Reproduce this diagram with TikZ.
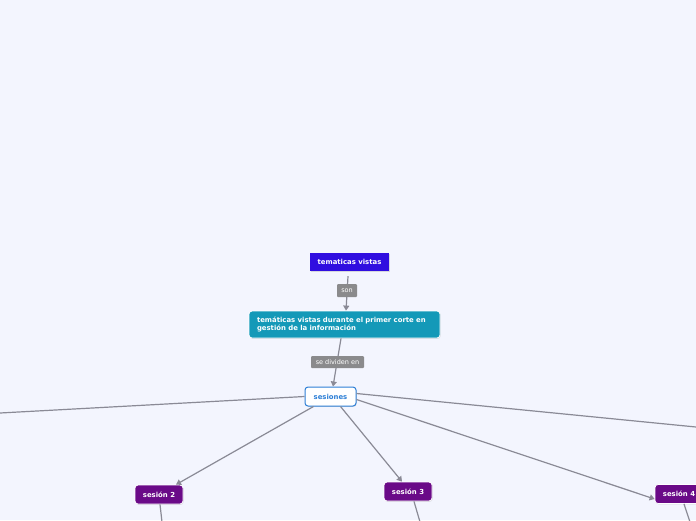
\documentclass[tikz,border=0pt]{standalone}
\usepackage{fontspec}
\setmainfont{DejaVu Sans}
\usetikzlibrary{arrows.meta,shadows}
\definecolor{bgc}{RGB}{243,245,254}
\definecolor{tvc}{RGB}{48,14,224}
\definecolor{durc}{RGB}{20,153,184}
\definecolor{sesc}{RGB}{45,127,214}
\definecolor{purc}{RGB}{106,10,136}
\definecolor{lblc}{RGB}{138,138,140}
\definecolor{linec}{RGB}{138,138,150}
\tikzset{
  conn/.style={draw=linec, line width=1.2pt},
  arr/.style={conn, -{Triangle[length=5pt,width=6pt]}},
  lbl/.style={fill=lblc, text=white, font=\fontsize{6.5}{7}\selectfont, inner sep=0pt, rounded corners=1pt},
  boxbase/.style={text=white, font=\bfseries\fontsize{6.9}{8}\selectfont, inner sep=0pt,
    drop shadow={opacity=0.25, shadow xshift=0.6pt, shadow yshift=-0.8pt}},
  topbox/.style={boxbase, fill=tvc, minimum width=79pt, minimum height=18pt},
  durbox/.style={boxbase, fill=durc, draw=white, line width=0.8pt, rounded corners=3pt, minimum width=191pt, minimum height=27pt, text width=175pt, align=left},
  sesbox/.style={boxbase, fill=white, draw=sesc, line width=1pt, text=sesc, rounded corners=3pt, minimum width=51pt, minimum height=19pt},
  purbox/.style={boxbase, fill=purc, draw=white, line width=0.8pt, rounded corners=3pt, minimum width=48pt, minimum height=19pt},
}
\begin{document}
\begin{tikzpicture}[x=1pt,y=-1pt]
\fill[bgc] (0,0) rectangle (696,520);
\useasboundingbox (0,0) rectangle (696,520);
\clip (0,0) rectangle (696,520);
% nodes
\node[topbox] (tv) at (349.5,262) {tematicas vistas};
\node[durbox] (dur) at (344.5,324.5) {temáticas vistas durante el primer corte en\\gestión de la información};
\node[sesbox] (ses) at (330.5,396.5) {sesiones};
\node[purbox] (s2) at (159,494.5) {sesión 2};
\node[purbox] (s3) at (408,491.5) {sesión 3};
\node[purbox] (s4) at (679,494) {sesión 4};
% off-picture ends
\coordinate (e1) at (0,413);
\coordinate (e5) at (696,427);
\coordinate (d2) at (162,522);
\coordinate (d3) at (420,522);
\coordinate (d4) at (690,522);
% connectors
\draw[arr] ([xshift=-1.5pt,yshift=-5pt]tv.south) -- ([xshift=1.5pt]dur.north);
\draw[arr] ([xshift=-3.5pt]dur.south) -- ([xshift=2.5pt]ses.north);
\draw[conn] (ses.west) -- (e1);
\draw[arr] ([xshift=-17pt]ses.south) -- ([xshift=17pt]s2.north);
\draw[arr] ([xshift=10pt]ses.south) -- ([xshift=-6pt]s3.north);
\draw[arr] ([yshift=-3pt]ses.east) -- ([yshift=-5pt]s4.west);
\draw[conn] ([yshift=3pt]ses.east) -- (e5);
\draw[conn] ([xshift=1pt]s2.south) -- (d2);
\draw[conn] ([xshift=6pt]s3.south) -- (d3);
\draw[conn] ([xshift=5pt]s4.south) -- (d4);
% labels
\node[lbl, minimum width=20pt, minimum height=13pt] (son) at (347,290.5) {son};
\node[lbl, minimum width=53pt, minimum height=12pt] (div) at (337.5,362) {se dividen en};
\end{tikzpicture}
\end{document}
